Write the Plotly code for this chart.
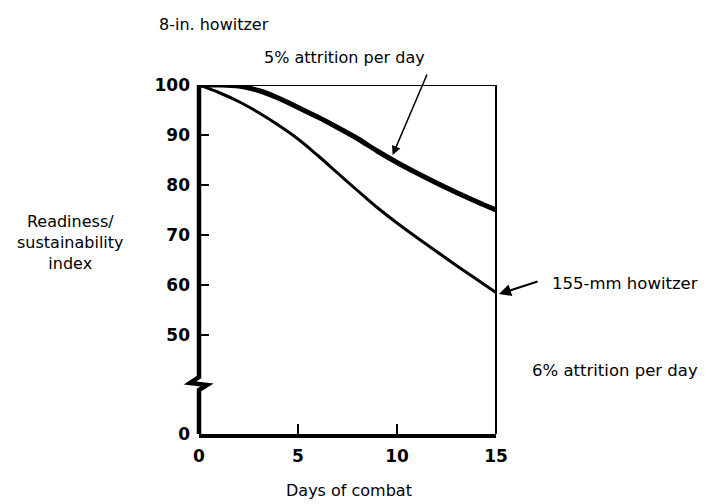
import plotly.graph_objects as go

# ---- data ----
days = [0, 1, 2, 3, 4, 5, 6, 7, 8, 9, 10, 11, 12, 13, 14, 15]
howitzer_8in = [100, 100, 99.8, 98.9, 97.4, 95.5, 93.6, 91.5, 89.3, 86.8, 84.5, 82.4, 80.4, 78.5, 76.7, 75]
howitzer_155 = [100, 98.5, 96.7, 94.5, 92.0, 89.2, 85.9, 82.4, 78.9, 75.5, 72.4, 69.5, 66.7, 63.9, 61.2, 58.5]
x_ticks = [0, 5, 10, 15]
y_tick_labels = ["0", "50", "60", "70", "80", "90", "100"]
y_tick_values = [50, 60, 70, 80, 90, 100]

# broken axis: the "0" is drawn at this position of the axis
ZERO_POS = 30.2
BREAK_POS = 40.4

TICK_FONT = dict(family="DejaVu Sans", size=17, color="black", weight="bold")
TEXT_FONT = dict(family="DejaVu Sans", size=16, color="black")

fig = go.Figure()
fig.add_trace(go.Scatter(x=days, y=howitzer_8in, mode="lines",
                         line=dict(color="black", width=5, shape="spline", smoothing=0.8),
                         showlegend=False, hoverinfo="skip"))
fig.add_trace(go.Scatter(x=days, y=howitzer_155, mode="lines",
                         line=dict(color="black", width=3, shape="spline", smoothing=1.0),
                         showlegend=False, hoverinfo="skip"))

OFF = 8  # page body margin
W, H = 709 - OFF, 504 - OFF
L, T = 199 - OFF, 85 - OFF
R = W - (496 - OFF)
B = H - (434 - OFF)
pw = W - L - R
ph = H - T - B

def px(dx):
    return dx / pw

shapes = []
# left axis with a break
path = (f"M 0,{ZERO_POS} L 0,{BREAK_POS - 1.4} L {px(8)},{BREAK_POS - 0.4} "
        f"L {px(-9)},{BREAK_POS} L 0,{BREAK_POS + 1.2} L 0,100")
shapes.append(dict(type="path", xref="paper", yref="y", path=path,
                   line=dict(color="black", width=4.5), layer="above"))
# top and right frame lines
shapes.append(dict(type="line", xref="paper", yref="y", x0=0, x1=1, y0=100, y1=100,
                   line=dict(color="black", width=2), layer="above"))
shapes.append(dict(type="line", xref="paper", yref="y", x0=1, x1=1, y0=ZERO_POS, y1=100,
                   line=dict(color="black", width=2), layer="above"))

def ppx(X):
    return (X - OFF - L) / pw

def ppy(Y):
    return (H - B - (Y - OFF)) / ph

annotations = [
    dict(text="8-in. howitzer", x=ppx(157), y=ppy(25), xref="paper", yref="paper",
         xanchor="left", yanchor="middle", showarrow=False, font=TEXT_FONT),
    dict(text="5% attrition per day", x=ppx(262), y=ppy(58), xref="paper", yref="paper",
         xanchor="left", yanchor="middle", showarrow=False, font=TEXT_FONT),
    dict(text="Readiness/<br>sustainability<br>index", x=ppx(70), y=ppy(242), xref="paper",
         yref="paper", xanchor="center", yanchor="middle", align="center", showarrow=False,
         font=TEXT_FONT),
    dict(text="155-mm howitzer", x=ppx(700), y=ppy(283), xref="paper", yref="paper",
         xanchor="right", yanchor="middle", showarrow=False, font=dict(TEXT_FONT, size=16.5)),
    dict(text="6% attrition per day", x=ppx(700), y=ppy(370), xref="paper", yref="paper",
         xanchor="right", yanchor="middle", showarrow=False, font=dict(TEXT_FONT, size=16.5)),
    dict(text="Days of combat", x=ppx(349), y=ppy(490), xref="paper", yref="paper",
         xanchor="center", yanchor="middle", showarrow=False, font=TEXT_FONT),
    # arrows
    dict(text="", x=9.78, y=86, xref="x", yref="y", ax=35, ay=-82, axref="pixel", ayref="pixel",
         showarrow=True, arrowhead=2, arrowsize=1.2, arrowwidth=1.5, arrowcolor="black"),
    dict(text="", x=ppx(499), y=58.2, xref="paper", yref="y", ax=40, ay=-13,
         axref="pixel", ayref="pixel",
         showarrow=True, arrowhead=2, arrowsize=1.2, arrowwidth=2, arrowcolor="black"),
]

fig.update_layout(
    width=W, height=H,
    margin=dict(l=L, r=R, t=T, b=B, pad=0),
    paper_bgcolor="white", plot_bgcolor="white",
    shapes=shapes, annotations=annotations,
    xaxis=dict(range=[0, 15], tickvals=x_ticks, ticktext=[str(v) for v in x_ticks],
               ticks="inside", ticklen=10, tickwidth=2, tickcolor="black",
               showline=True, linewidth=4, linecolor="black",
               showgrid=False, zeroline=False, tickfont=TICK_FONT, ticklabelstandoff=4,
               fixedrange=True),
    yaxis=dict(range=[ZERO_POS, 100], tickvals=[ZERO_POS] + y_tick_values, ticktext=y_tick_labels,
               ticks="inside", ticklen=10, tickwidth=2, tickcolor="black",
               showline=False, showgrid=False, zeroline=False, tickfont=TICK_FONT,
               ticklabelstandoff=8, fixedrange=True),
)

fig.write_html("out.html")
